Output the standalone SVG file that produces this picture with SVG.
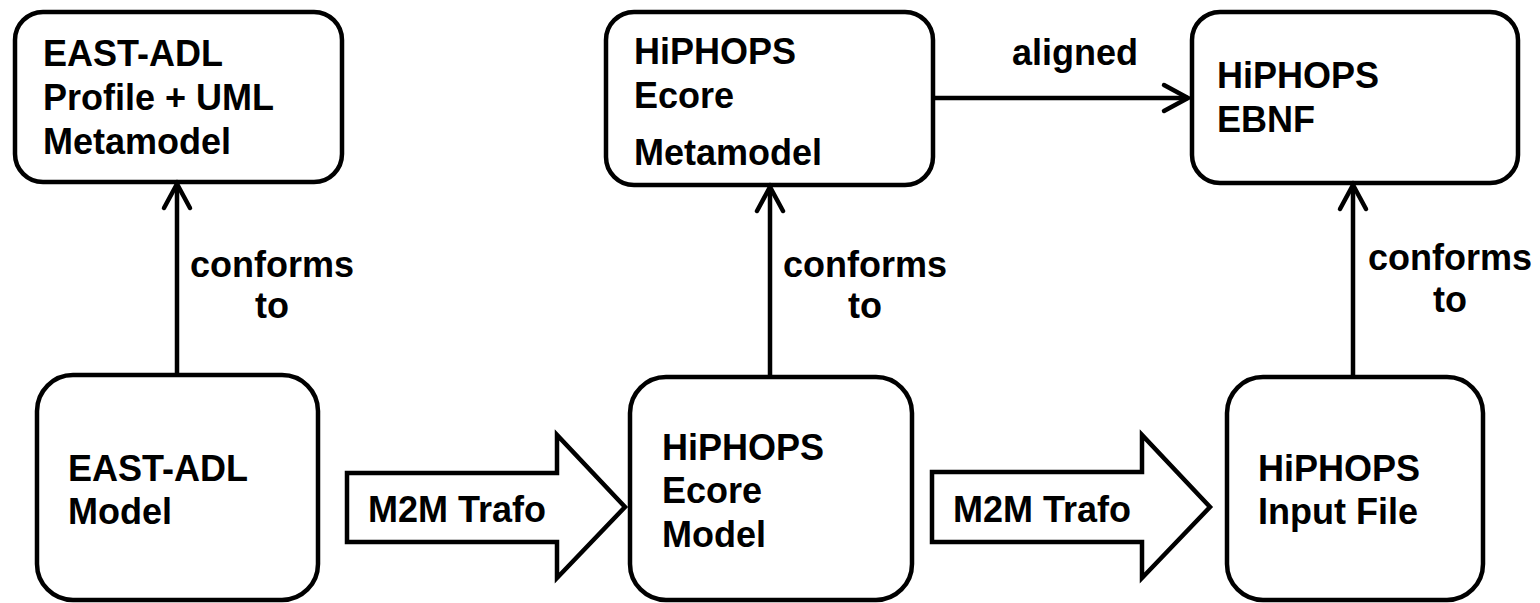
<svg xmlns="http://www.w3.org/2000/svg" width="1540" height="603" viewBox="0 0 1540 603">
<style>
.box{fill:#fff;stroke:#000;stroke-width:4.5}
.blk{fill:#fff;stroke:#000;stroke-width:4.5;stroke-linejoin:miter}
.t{font-family:"Liberation Sans",Arial,sans-serif;font-weight:bold;font-size:36px;fill:#000}
.c{text-anchor:middle}
.ln{fill:none;stroke:#000;stroke-width:4.5}
</style>
<defs>
<marker id="open" markerUnits="userSpaceOnUse" viewBox="-30 -20 40 40" refX="0" refY="0" markerWidth="40" markerHeight="40" orient="auto" overflow="visible">
<path d="M-24,-13 L0,0 L-24,13" fill="none" stroke="#000" stroke-width="4.5" stroke-linecap="round" stroke-linejoin="miter"/>
</marker>
</defs>
<g id="n-eastadl-meta">
<rect class="box" x="15" y="12" width="327" height="170" rx="28"/>
<text class="t" x="43" y="66">EAST-ADL</text>
<text class="t" x="43" y="110">Profile + UML</text>
<text class="t" x="43" y="154">Metamodel</text>
</g>
<g id="n-hiphops-ecore-meta">
<rect class="box" x="606" y="12" width="327" height="173" rx="28"/>
<text class="t" x="634" y="64">HiPHOPS</text>
<text class="t" x="634" y="108">Ecore</text>
<text class="t" x="634" y="165">Metamodel</text>
</g>
<g id="n-hiphops-ebnf">
<rect class="box" x="1192" y="12" width="326" height="171" rx="28"/>
<text class="t" x="1217" y="88">HiPHOPS</text>
<text class="t" x="1217" y="132">EBNF</text>
</g>
<g id="n-eastadl-model">
<rect class="box" x="37" y="375" width="281" height="225" rx="36"/>
<text class="t" x="68" y="481">EAST-ADL</text>
<text class="t" x="68" y="524">Model</text>
</g>
<g id="n-hiphops-ecore-model">
<rect class="box" x="630" y="377" width="282" height="223" rx="36"/>
<text class="t" x="662" y="460">HiPHOPS</text>
<text class="t" x="662" y="503">Ecore</text>
<text class="t" x="662" y="547">Model</text>
</g>
<g id="n-hiphops-input">
<rect class="box" x="1227" y="377" width="256" height="223" rx="36"/>
<text class="t" x="1258" y="481">HiPHOPS</text>
<text class="t" x="1258" y="524">Input File</text>
</g>
<g id="connectors">
<line class="ln" x1="177" y1="375" x2="177" y2="184" marker-end="url(#open)"/>
<line class="ln" x1="770" y1="377" x2="770" y2="187" marker-end="url(#open)"/>
<line class="ln" x1="1353" y1="377" x2="1353" y2="185" marker-end="url(#open)"/>
<line class="ln" x1="933" y1="98" x2="1188" y2="98" marker-end="url(#open)"/>
<text class="t c" x="272" y="277">conforms</text>
<text class="t c" x="272" y="318">to</text>
<text class="t c" x="865" y="277">conforms</text>
<text class="t c" x="865" y="318">to</text>
<text class="t c" x="1450" y="270">conforms</text>
<text class="t c" x="1450" y="312">to</text>
<text class="t c" x="1075" y="65">aligned</text>
<polygon class="blk" points="347,473 557,473 557,435 625,507 557,578 557,542 347,542"/>
<text class="t" x="368" y="522">M2M Trafo</text>
<polygon class="blk" points="932,472 1142,472 1142,435 1210,507 1142,578 1142,542 932,542"/>
<text class="t" x="953" y="522">M2M Trafo</text>
</g>
</svg>
